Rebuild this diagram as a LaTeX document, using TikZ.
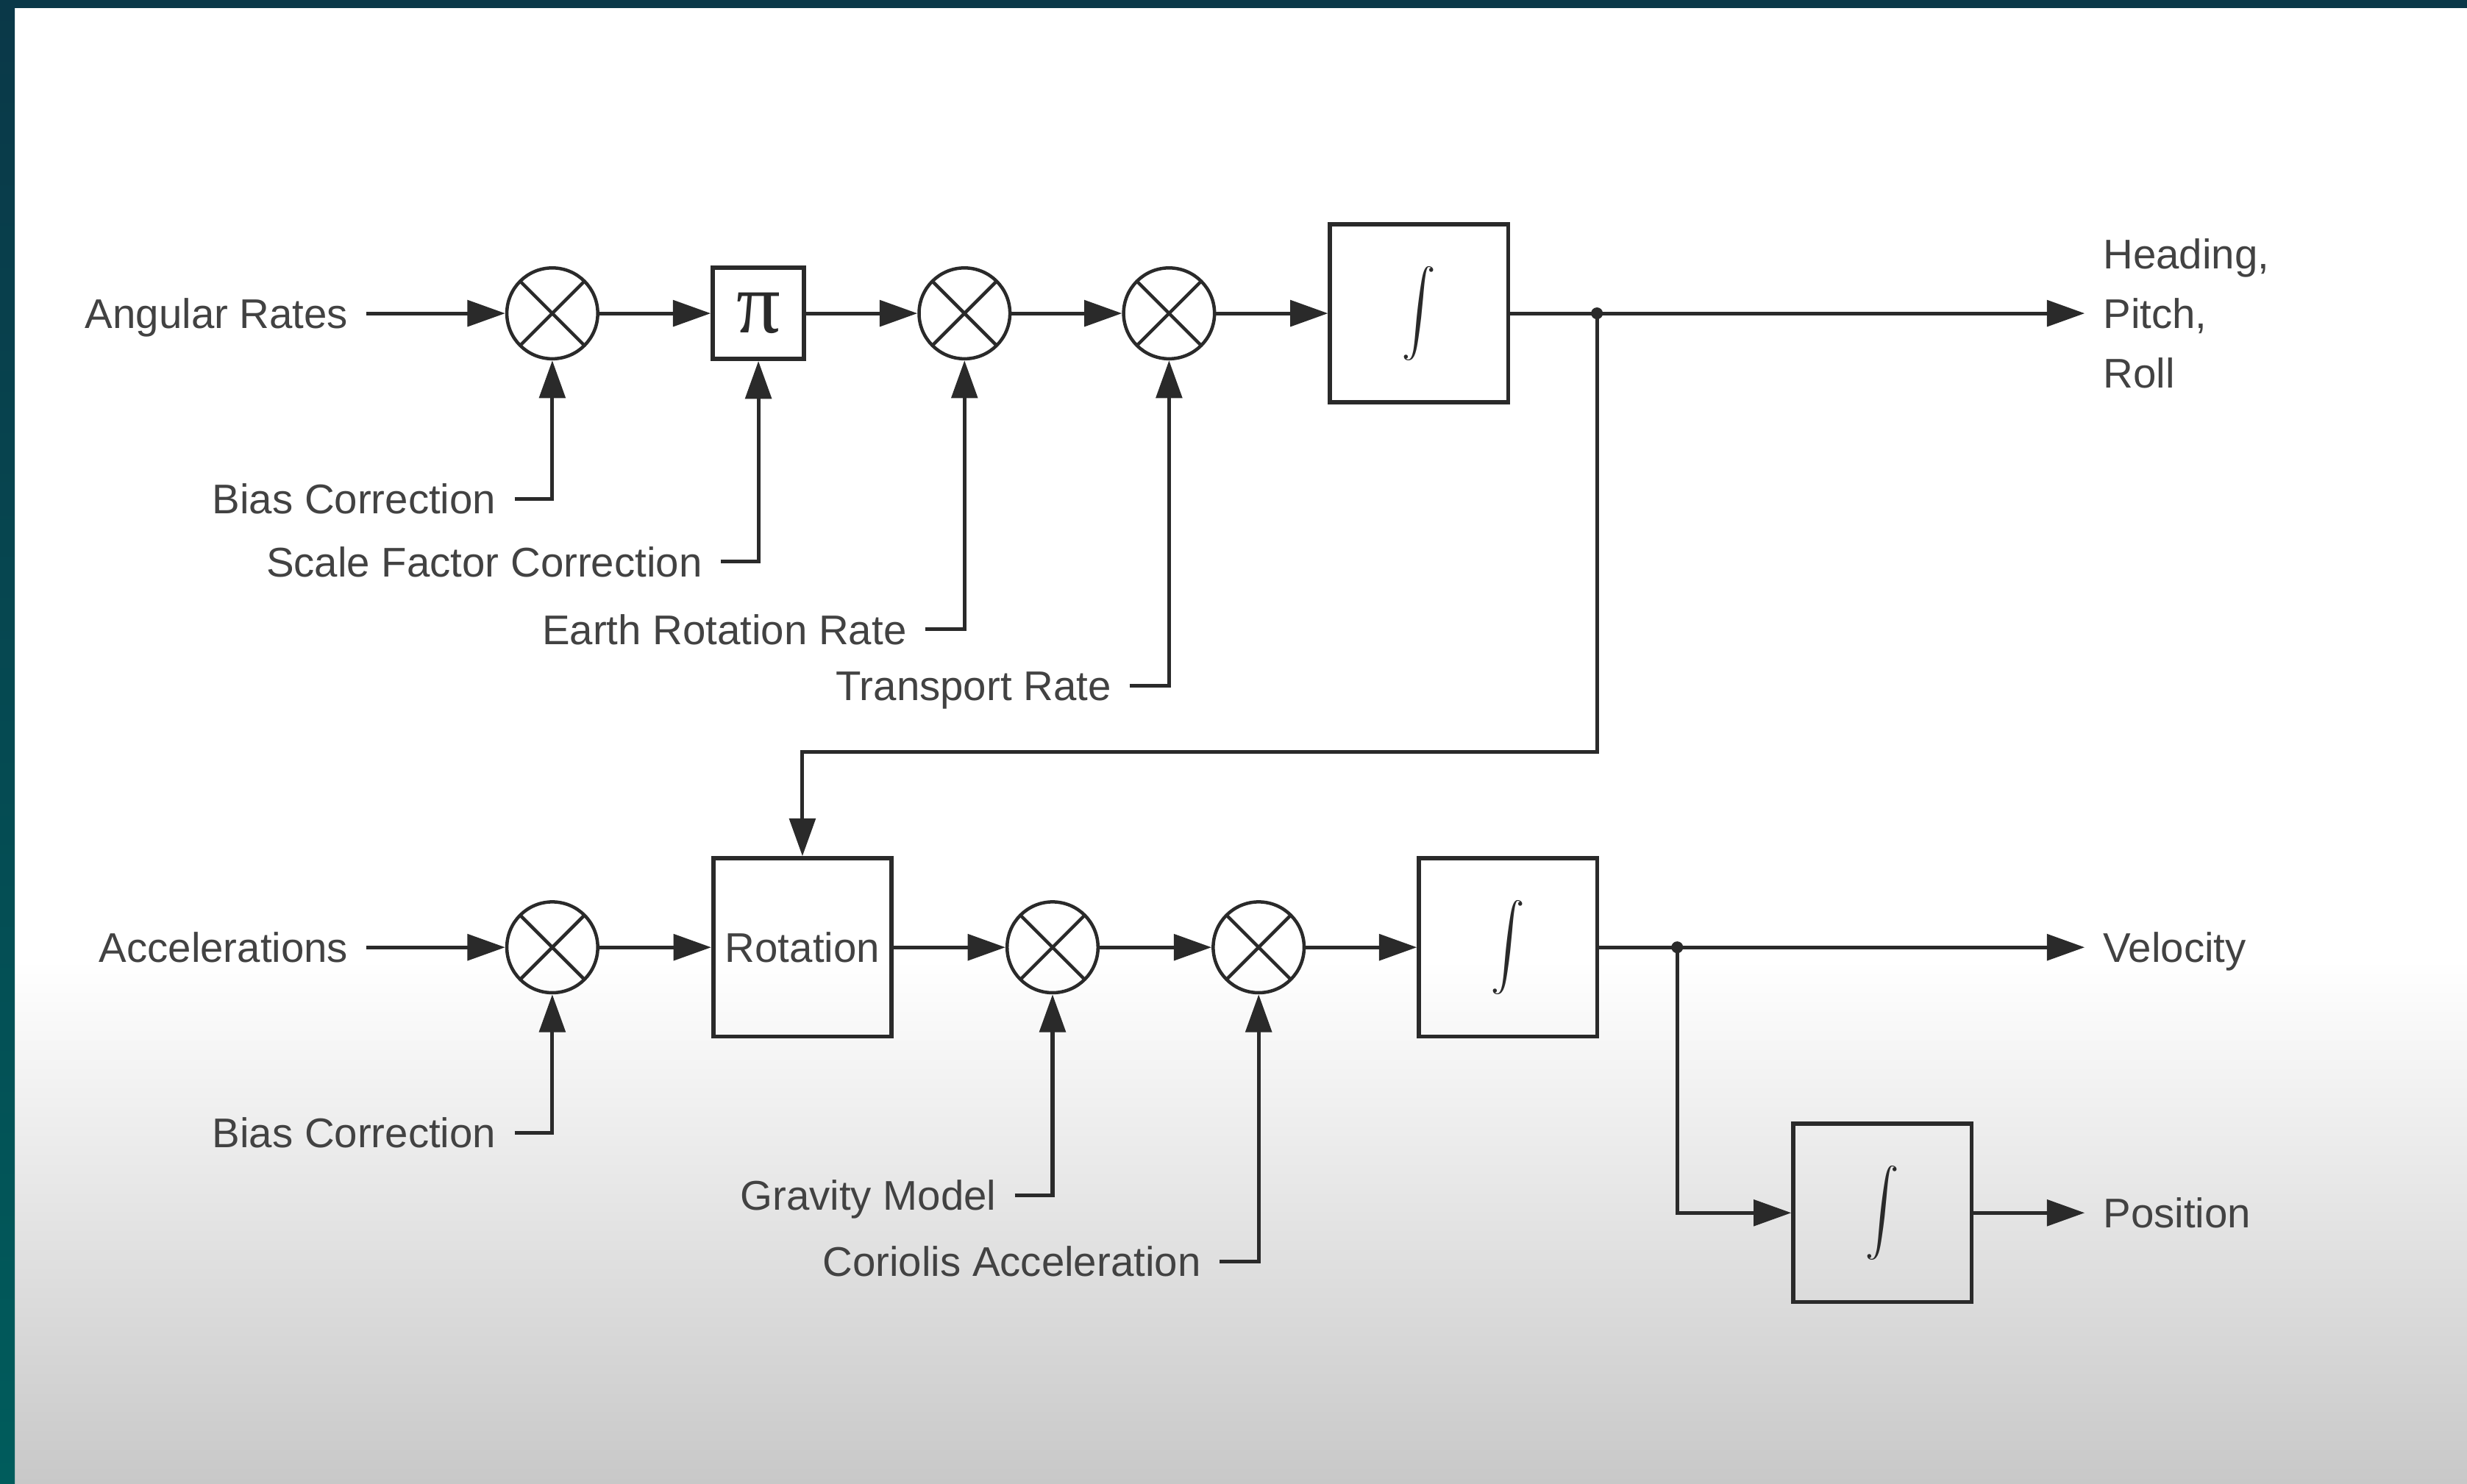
\documentclass[tikz,border=0pt]{standalone}
\usepackage{fontspec}
\usepackage{graphicx}
\setmainfont{Liberation Sans}
\newfontfamily\pifont{Liberation Serif}
\usetikzlibrary{arrows.meta,positioning,calc}
\definecolor{framedark}{HTML}{0A3848}
\definecolor{frameteal}{HTML}{005C5C}
\definecolor{linegray}{HTML}{2A2A2A}
\definecolor{labelgray}{HTML}{424242}
\definecolor{floorgray}{HTML}{C8C8C8}
\newcommand{\integ}{\rotatebox{5}{$\displaystyle\int$}}
\tikzset{
  block/.style={draw=linegray,line width=1pt,minimum size=#1,
                inner sep=0pt,text=linegray,font=\fontsize{10}{12}\selectfont},
  block/.default=15.1mm,
  mult/.style={draw=linegray,circle,line width=0.8pt,minimum size=7.7mm,
               inner sep=0pt,
               path picture={\draw[linegray,line width=0.8pt]
                 (path picture bounding box.south west) --
                 (path picture bounding box.north east)
                 (path picture bounding box.north west) --
                 (path picture bounding box.south east);}},
  lbl/.style={font=\fontsize{10}{14.4}\selectfont,text=labelgray,
              inner xsep=1.5mm,inner ysep=0pt,
              text height=0.72em,text depth=0pt},
  outlbl/.style={font=\fontsize{10}{14.4}\selectfont,text=labelgray,
                 inner xsep=1.5mm,inner ysep=0pt,align=left},
  arr/.style={-{Triangle[length=3.2mm,width=2.2mm]},draw=linegray,
              line width=0.9pt},
  tap/.style={circle,fill=linegray,inner sep=0pt,minimum size=1mm}
}
\begin{document}
\begin{tikzpicture}[x=1cm,y=1cm]
    \path[use as bounding box] (0,0) rectangle (20.90,-12.569);
    % backdrop
    \fill[white] (0,0) rectangle (20.90,-12.569);
    \shade[top color=white,bottom color=floorgray]
      (0,-8.13) rectangle (20.90,-12.569);
    \fill[framedark] (0,0) rectangle (20.90,-0.068);
    \shade[top color=framedark,bottom color=frameteal]
      (0,0) rectangle (0.125,-12.569);
    % attitude chain
    \node[lbl,anchor=east] (ang) at (3.106,-2.655) {Angular Rates};
    \node[mult] (m1) at (4.679,-2.655) {};
    \node[block=7.73mm] (pi) at (6.425,-2.655)
      {\pifont\fontsize{21}{21}\selectfont π};
    \node[mult] (m2) at (8.171,-2.655) {};
    \node[mult] (m3) at (9.904,-2.655) {};
    \node[block] (int1) at (12.023,-2.655) {\integ};
    \coordinate (br1) at (13.529,-2.655);
    \node[outlbl,anchor=west] (hpr) at (17.661,-2.655)
      {Heading,\\Pitch,\\Roll};
    \node[lbl,anchor=east] (bias1) at (4.359,-4.225) {Bias Correction};
    \node[lbl,anchor=east] (sfc) at (6.105,-4.759) {Scale Factor Correction};
    \node[lbl,anchor=east] (earth) at (7.837,-5.332) {Earth Rotation Rate};
    \node[lbl,anchor=east] (trans) at (9.570,-5.811) {Transport Rate};
    % navigation chain
    \node[lbl,anchor=east] (acc) at (3.106,-8.027) {Accelerations};
    \node[mult] (m4) at (4.679,-8.027) {};
    \node[block,text=labelgray] (rot) at (6.798,-8.027) {Rotation};
    \node[mult] (m5) at (8.917,-8.027) {};
    \node[mult] (m6) at (10.663,-8.027) {};
    \node[block] (int2) at (12.776,-8.027) {\integ};
    \coordinate (br2) at (14.209,-8.027);
    \node[lbl,anchor=west] (vel) at (17.661,-8.027) {Velocity};
    \node[block] (int3) at (15.948,-10.277) {\integ};
    \node[lbl,anchor=west] (pos) at (17.661,-10.277) {Position};
    \node[lbl,anchor=east] (bias2) at (4.359,-9.597) {Bias Correction};
    \node[lbl,anchor=east] (grav) at (8.597,-10.130) {Gravity Model};
    \node[lbl,anchor=east] (cor) at (10.330,-10.690) {Coriolis Acceleration};
    \coordinate (fb) at (6.798,-6.371);
    % connectors
    \draw[arr] (ang) -- (m1);
    \draw[arr] (m1) -- (pi);
    \draw[arr] (pi) -- (m2);
    \draw[arr] (m2) -- (m3);
    \draw[arr] (m3) -- (int1);
    \draw[arr] (int1) -- (hpr);
    \draw[arr] (bias1) -| (m1);
    \draw[arr] (sfc) -| (pi);
    \draw[arr] (earth) -| (m2);
    \draw[arr] (trans) -| (m3);
    \draw[arr] (br1) |- (fb) -- (rot);
    \draw[arr] (acc) -- (m4);
    \draw[arr] (m4) -- (rot);
    \draw[arr] (rot) -- (m5);
    \draw[arr] (m5) -- (m6);
    \draw[arr] (m6) -- (int2);
    \draw[arr] (int2) -- (vel);
    \draw[arr] (br2) |- (int3);
    \draw[arr] (int3) -- (pos);
    \draw[arr] (bias2) -| (m4);
    \draw[arr] (grav) -| (m5);
    \draw[arr] (cor) -| (m6);
    \node[tap] at (br1) {};
    \node[tap] at (br2) {};
  \end{tikzpicture}
\end{document}
